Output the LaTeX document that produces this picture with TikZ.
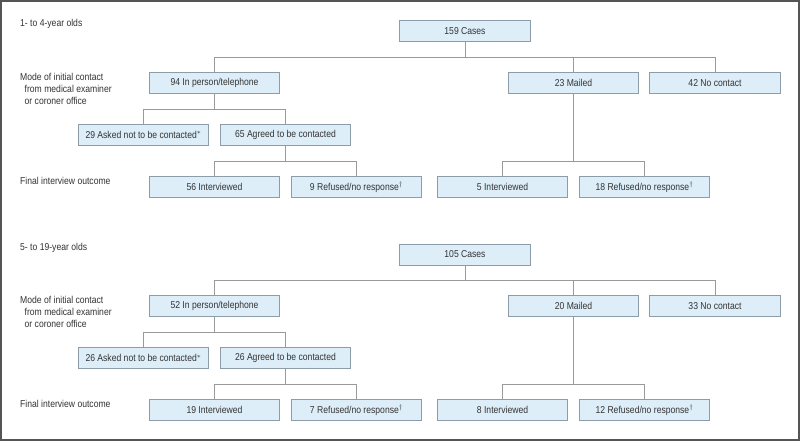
\documentclass[tikz,border=0pt]{standalone}
\usepackage{fontspec}
\setmainfont{Liberation Sans}[FakeStretch=0.86]
\definecolor{boxfill}{HTML}{DDEEF9}
\definecolor{boxline}{HTML}{8C9CA8}
\definecolor{conn}{HTML}{9A9A9A}
\definecolor{txt}{HTML}{333333}
\definecolor{frame}{HTML}{555555}
\tikzset{
  cbox/.style={draw=boxline, fill=boxfill, line width=0.9pt, minimum width=130.5pt, minimum height=21pt, inner sep=0pt, font=\fontsize{10}{12}\selectfont, text=txt},
  lbl/.style={anchor=west, inner sep=0pt, font=\fontsize{10}{12}\selectfont, text=txt, align=left},
  link/.style={draw=conn, line width=0.9pt},
}
\begin{document}
\begin{tikzpicture}[x=1pt,y=-1pt]
\useasboundingbox (0,0) rectangle (800,441);
\fill[white] (0,0) rectangle (800,441);
\draw[frame, line width=2pt] (1,1) rectangle (799,440);
\foreach \s/\oy/\age/\tot/\pp/\ma/\nc/\ask/\agr/\intv/\refu/\mint/\mref in {
  A/0/1- to 4-year olds/159/94/23/42/29/65/56/9/5/18,
  B/223.5/5- to 19-year olds/105/52/20/33/26/26/19/7/8/12} {
  \begin{scope}[yshift=-\oy pt]
    \node[lbl] (t\s) at (20,24) {\age};
    \node[lbl] (mode\s) at (20,88.5) {Mode of initial contact\\\hspace{4.5pt}from medical examiner\\\hspace{4.5pt}or coroner office};
    \node[lbl] (fin\s) at (20,180.5) {Final interview outcome};
    \node[cbox] (c\s) at (465,31) {\tot{} Cases};
    \node[cbox] (p\s) at (214.5,82.7) {\pp{} In person/telephone};
    \node[cbox] (m\s) at (573.5,82.7) {\ma{} Mailed};
    \node[cbox] (n\s) at (715,82.7) {\nc{} No contact};
    \node[cbox] (a\s) at (143.5,134.8) {\ask{} Asked not to be contacted$^{*}$};
    \node[cbox] (g\s) at (285.5,134.8) {\agr{} Agreed to be contacted};
    \node[cbox] (i\s) at (214.5,186.8) {\intv{} Interviewed};
    \node[cbox] (r\s) at (356.5,186.8) {\refu{} Refused/no response$^{\dagger}$};
    \node[cbox] (im\s) at (502.5,186.8) {\mint{} Interviewed};
    \node[cbox] (rm\s) at (644.5,186.8) {\mref{} Refused/no response$^{\dagger}$};
    \coordinate (b1\s) at (0,57);
    \coordinate (b2\s) at (0,109);
    \coordinate (b3\s) at (0,161);
    \draw[link] (c\s.south) -- (c\s.south |- b1\s) -| (p\s.north);
    \draw[link] (c\s.south |- b1\s) -| (m\s.north);
    \draw[link] (c\s.south |- b1\s) -| (n\s.north);
    \draw[link] (p\s.south) -- (p\s.south |- b2\s) -| (a\s.north);
    \draw[link] (p\s.south |- b2\s) -| (g\s.north);
    \draw[link] (g\s.south) -- (g\s.south |- b3\s) -| (i\s.north);
    \draw[link] (g\s.south |- b3\s) -| (r\s.north);
    \draw[link] (m\s.south) -- (m\s.south |- b3\s) -| (im\s.north);
    \draw[link] (m\s.south |- b3\s) -| (rm\s.north);
  \end{scope}
}
\end{tikzpicture}
\end{document}
